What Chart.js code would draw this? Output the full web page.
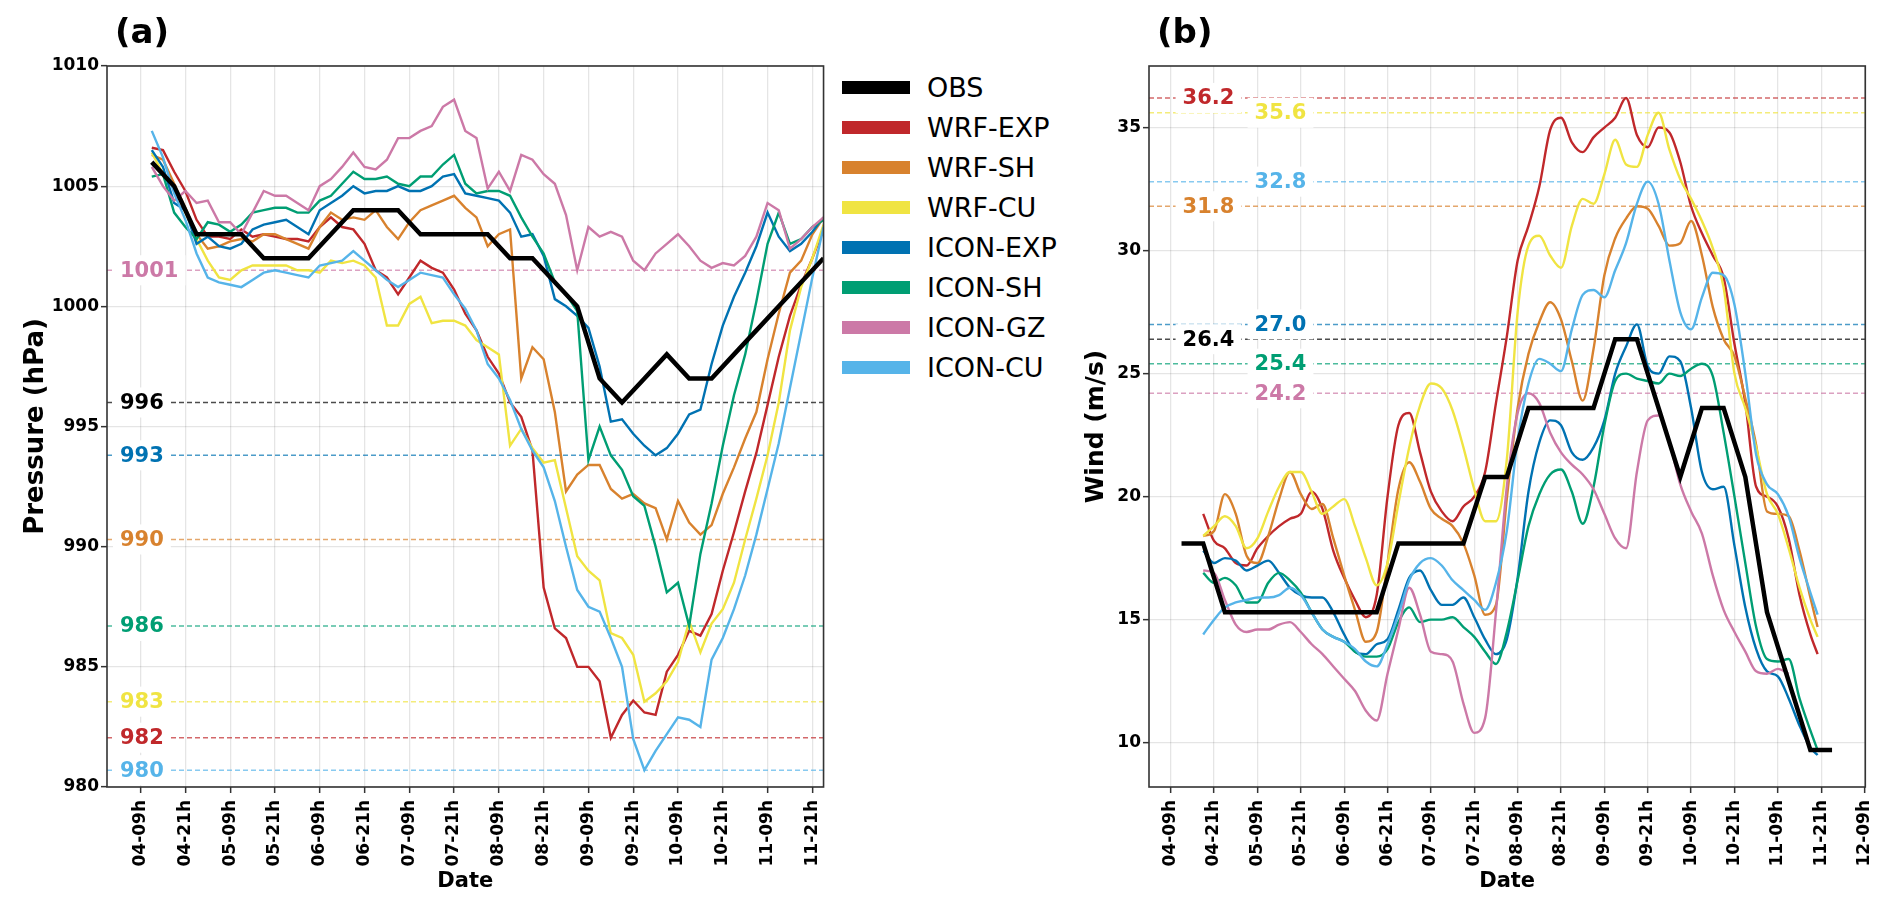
<!DOCTYPE html>
<html>
<head>
<meta charset="utf-8">
<script src="https://cdn.jsdelivr.net/npm/chart.js@4.4.1/dist/chart.umd.min.js"></script>
<style>
  body { margin: 0; background: #fff; width: 1892px; height: 908px; overflow: hidden; position: relative; font-family: "DejaVu Sans", sans-serif; }
  #pressureChart { position: absolute; left: 0; top: 0; }
  #windChart { position: absolute; left: 1060px; top: 0; }
  #legend { position: absolute; left: 842px; top: 67px; }
  .item { display: flex; align-items: center; height: 40px; }
  .swatch { width: 68px; height: 13px; margin-right: 17px; }
  .item span { font-size: 27px; color: #000; line-height: 1; }
</style>
</head>
<body>
<canvas id="pressureChart" width="840" height="908"></canvas>
<canvas id="windChart" width="832" height="908"></canvas>
<div id="legend"></div>

<script>
// ====== NAMES & COLOURS ======
const seriesNames = ["OBS", "WRF-EXP", "WRF-SH", "WRF-CU", "ICON-EXP", "ICON-SH", "ICON-GZ", "ICON-CU"];
const seriesColors = ["#000000", "#C0282B", "#D8822E", "#F0E442", "#0072B2", "#009E73", "#CC79A7", "#56B4E9"];

// ====== X AXIS (hours after 04-00h) ======
const dateTicks = ["04-09h", "04-21h", "05-09h", "05-21h", "06-09h", "06-21h", "07-09h", "07-21h",
                   "08-09h", "08-21h", "09-09h", "09-21h", "10-09h", "10-21h", "11-09h", "11-21h", "12-09h"];
const dateTickHours = [9, 21, 33, 45, 57, 69, 81, 93, 105, 117, 129, 141, 153, 165, 177, 189, 201];

const obsHours = [];            // 6-hourly observations
for (let h = 12; h <= 192; h += 6) obsHours.push(h);
const pressureHours = [];       // 3-hourly model output
for (let h = 12; h <= 192; h += 3) pressureHours.push(h);
const windHours = [];
for (let h = 18; h <= 186; h += 3) windHours.push(h);
windHours.push(188);

const pressureTicks = [980, 985, 990, 995, 1000, 1005, 1010];
const windTicks = [10, 15, 20, 25, 30, 35];

// ====== (a) PRESSURE ======
const obsP = [1006, 1005, 1003, 1003, 1003, 1002, 1002, 1002, 1003, 1004, 1004, 1004, 1003, 1003, 1003, 1003,
              1002, 1002, 1001, 1000, 997, 996, 997, 998, 997, 997, 998, 999, 1000, 1001, 1002];
const wrfExpP = [1006.6, 1006.5, 1005.6, 1004.8, 1003.6, 1002.9, 1002.9, 1002.8, 1003.2, 1002.9,
                 1003.0, 1002.9, 1002.8, 1002.8, 1002.7, 1003.3, 1003.7, 1003.3, 1003.2, 1002.6,
                 1001.5, 1001.2, 1000.5, 1001.2, 1001.9, 1001.6, 1001.4, 1000.7, 999.7, 999.0,
                 997.9, 997.2, 996.0, 995.4, 994.0, 988.3, 986.6, 986.2, 985.0, 985.0,
                 984.4, 982.05, 983.0, 983.6, 983.1, 983.0, 984.8, 985.5, 986.5, 986.3,
                 987.2, 989.0, 990.6, 992.3, 993.9, 995.9, 997.9, 999.6, 1000.9, 1002.0,
                 1003.2];
const wrfShP = [1006.3, 1006.1, 1005.1, 1004.1, 1003.0, 1002.4, 1002.5, 1002.7, 1002.8, 1002.7,
                1003.0, 1003.0, 1002.8, 1002.6, 1002.4, 1003.3, 1003.9, 1003.6, 1003.7, 1003.6,
                1004.0, 1003.3, 1002.8, 1003.5, 1004.0, 1004.2, 1004.4, 1004.6, 1004.1, 1003.7,
                1002.5, 1003.0, 1003.2, 997.0, 998.3, 997.8, 995.6, 992.3, 993.0, 993.4,
                993.4, 992.4, 992.0, 992.2, 991.8, 991.6, 990.3, 991.9, 991.0, 990.5,
                990.9, 992.2, 993.3, 994.5, 995.6, 997.8, 999.7, 1001.4, 1001.9, 1003.0,
                1003.7];
const wrfCuP = [1006.4, 1005.5, 1005.0, 1003.9, 1002.8, 1001.9, 1001.2, 1001.1, 1001.5, 1001.7,
                1001.7, 1001.7, 1001.7, 1001.5, 1001.5, 1001.4, 1001.9, 1001.8, 1001.9, 1001.7,
                1001.2, 999.2, 999.2, 1000.1, 1000.4, 999.3, 999.4, 999.4, 999.2, 998.6,
                998.3, 998.0, 994.2, 994.9, 994.1, 993.5, 993.6, 991.6, 989.6, 989.0,
                988.6, 986.4, 986.2, 985.5, 983.55, 983.9, 984.4, 985.2, 986.9, 985.6,
                986.8, 987.4, 988.5, 990.3, 992.0, 993.8, 996.0, 999.0, 1000.8, 1002.0,
                1003.4];
const iconExpP = [1006.5, 1005.8, 1004.3, 1004.0, 1002.6, 1002.9, 1002.5, 1002.4, 1002.6, 1003.2,
                  1003.4, 1003.5, 1003.6, 1003.3, 1003.0, 1004.0, 1004.3, 1004.6, 1005.0, 1004.7,
                  1004.8, 1004.8, 1005.0, 1004.8, 1004.8, 1005.0, 1005.4, 1005.5, 1004.7, 1004.6,
                  1004.5, 1004.4, 1003.9, 1002.9, 1003.0, 1002.1, 1000.3, 1000.0, 999.6, 999.1,
                  997.5, 995.2, 995.3, 994.7, 994.2, 993.8, 994.1, 994.7, 995.5, 995.7,
                  997.6, 999.2, 1000.4, 1001.4, 1002.5, 1003.9, 1002.9, 1002.3, 1002.6, 1003.1,
                  1003.7];
const iconShP = [1005.4, 1005.5, 1003.9, 1003.3, 1002.8, 1003.5, 1003.4, 1003.1, 1003.4, 1003.9,
                 1004.0, 1004.1, 1004.1, 1003.9, 1003.9, 1004.4, 1004.6, 1005.1, 1005.6, 1005.3,
                 1005.3, 1005.4, 1005.1, 1005.0, 1005.4, 1005.4, 1005.9, 1006.3, 1005.1, 1004.7,
                 1004.8, 1004.8, 1004.6, 1003.7, 1002.9, 1002.2, 1001.0, 1000.5, 999.8, 993.6,
                 995.0, 993.8, 993.2, 992.1, 991.7, 990.0, 988.1, 988.5, 986.7, 989.7,
                 991.8, 994.2, 996.3, 998.0, 1000.2, 1002.6, 1003.9, 1002.6, 1002.8, 1003.3,
                 1003.6];
const iconGzP = [1005.8, 1005.0, 1004.4, 1004.8, 1004.3, 1004.4, 1003.5, 1003.5, 1003.0, 1003.9,
                 1004.8, 1004.6, 1004.6, 1004.3, 1004.0, 1005.0, 1005.3, 1005.8, 1006.4, 1005.8,
                 1005.7, 1006.1, 1007.0, 1007.0, 1007.3, 1007.5, 1008.3, 1008.6, 1007.3, 1007.0,
                 1004.9, 1005.6, 1004.8, 1006.3, 1006.1, 1005.5, 1005.1, 1003.8, 1001.5, 1003.3,
                 1002.9, 1003.1, 1002.9, 1001.9, 1001.5, 1002.2, 1002.6, 1003.0, 1002.5, 1001.9,
                 1001.6, 1001.8, 1001.7, 1002.1, 1002.9, 1004.3, 1004.0, 1002.4, 1002.8, 1003.3,
                 1003.7];
const iconCuP = [1007.3, 1006.2, 1004.7, 1003.6, 1002.2, 1001.2, 1001.0, 1000.9, 1000.8, 1001.1,
                 1001.4, 1001.5, 1001.4, 1001.3, 1001.2, 1001.7, 1001.8, 1001.9, 1002.3, 1001.9,
                 1001.5, 1001.1, 1000.8, 1001.1, 1001.4, 1001.3, 1001.2, 1000.5, 999.9, 999.0,
                 997.6, 997.0, 996.1, 994.9, 994.0, 993.3, 991.9, 990.0, 988.2, 987.5,
                 987.3, 986.2, 985.0, 982.0, 980.7, 981.5, 982.2, 982.9, 982.8, 982.5,
                 985.3, 986.2, 987.4, 988.8, 990.5, 992.4, 994.3, 996.6, 998.9, 1001.2,
                 1003.3];

// ====== (b) WIND ======
const obsW = [18.1, 18.1, 15.3, 15.3, 15.3, 15.3, 15.3, 15.3, 15.3, 15.3, 18.1, 18.1, 18.1, 18.1, 20.8, 20.8,
              23.6, 23.6, 23.6, 23.6, 26.4, 26.4, 23.6, 20.8, 23.6, 23.6, 20.8, 15.3, 12.5, 9.7, 9.7];
const wrfExpW = [19.3, 18.2, 17.9, 17.3, 17.2, 17.9, 18.4, 18.8, 19.1, 19.3,
                 20.2, 19.5, 17.8, 16.7, 15.8, 15.1, 16.0, 20.0, 22.9, 23.4,
                 21.8, 20.2, 19.4, 19.0, 19.6, 20.0, 21.0, 23.8, 26.5, 29.6,
                 31.0, 32.6, 34.9, 35.4, 34.4, 34.0, 34.6, 35.0, 35.4, 36.2,
                 34.7, 34.2, 35.0, 34.8, 33.6, 31.8, 30.7, 29.8, 28.9, 26.2,
                 23.8, 20.4, 20.0, 19.6, 18.3, 16.0, 14.4,
                 13.6];
const wrfShW = [18.4, 18.6, 20.1, 19.3, 17.6, 17.3, 18.4, 19.9, 21.0, 20.1,
                19.5, 19.7, 18.3, 16.8, 15.4, 14.1, 14.5, 17.3, 20.3, 21.4,
                20.6, 19.5, 19.1, 18.8, 18.1, 16.8, 15.2, 15.6, 19.9, 23.6,
                25.8, 27.1, 27.9, 27.2, 25.5, 23.9, 26.0, 29.0, 30.5, 31.3,
                31.8, 31.7, 31.0, 30.2, 30.3, 31.2, 29.8, 27.7, 26.4, 25.7,
                24.0, 22.1, 19.4, 19.3, 19.2, 17.8, 15.9,
                14.7];
const wrfCuW = [18.4, 18.8, 19.2, 18.8, 17.9, 18.3, 19.4, 20.4, 21.0, 21.0,
                20.2, 19.3, 19.6, 19.9, 18.8, 17.5, 16.4, 17.3, 19.7, 22.0,
                23.7, 24.6, 24.4, 23.5, 22.0, 20.3, 19.0, 19.0, 21.5, 27.5,
                30.2, 30.6, 29.8, 29.3, 31.0, 32.1, 31.9, 33.1, 34.5, 33.5,
                33.4, 34.7, 35.6, 34.1, 32.9, 32.1, 31.2, 30.1, 28.5, 25.0,
                23.6, 22.0, 20.1, 19.3, 17.9, 16.3, 15.0,
                14.3];
const iconExpW = [17.8, 17.3, 17.5, 17.4, 17.0, 17.2, 17.4, 16.9, 16.3, 16.0,
                  15.9, 15.9, 15.3, 14.4, 13.7, 13.6, 14.0, 14.2, 15.4, 16.7,
                  17.0, 16.2, 15.6, 15.6, 15.9, 15.1, 14.2, 13.6, 14.2, 16.7,
                  20.2, 22.2, 23.1, 22.9, 21.8, 21.5, 22.0, 23.1, 25.0, 26.1,
                  27.0, 25.3, 25.0, 25.7, 25.5, 23.6, 21.0, 20.3, 20.4, 18.0,
                  15.5, 13.8, 12.9, 12.7, 11.8, 10.7, 9.8,
                  9.5];
const iconShW = [16.9, 16.5, 16.7, 16.4, 15.7, 15.7, 16.5, 16.9, 16.6, 16.1,
                 15.3, 14.6, 14.3, 14.1, 13.7, 13.5, 13.5, 13.8, 14.9, 15.5,
                 14.9, 15.0, 15.0, 15.1, 14.7, 14.3, 13.7, 13.2, 14.5, 16.6,
                 18.8, 20.1, 20.9, 21.1, 20.2, 18.9, 20.4, 22.9, 24.7, 25.0,
                 24.8, 24.7, 24.6, 25.0, 24.9, 25.2, 25.4, 24.9, 22.6, 20.0,
                 17.3, 14.7, 13.4, 13.3, 13.4, 11.8, 10.5,
                 9.7];
const iconGzW = [17.0, 16.9, 15.8, 14.8, 14.5, 14.6, 14.6, 14.8, 14.9, 14.5,
                 14.0, 13.6, 13.1, 12.6, 12.1, 11.3, 10.9, 12.8, 14.6, 16.3,
                 15.2, 13.7, 13.6, 13.3, 11.6, 10.4, 11.0, 15.3, 20.4, 23.4,
                 24.2, 23.8, 22.6, 21.8, 21.3, 20.9, 20.3, 19.3, 18.3, 17.9,
                 21.0, 23.1, 23.3, 22.2, 20.5, 19.4, 18.5, 16.8, 15.4, 14.5,
                 13.7, 12.9, 12.8, 13.0, 12.8, null, null,
                 null];
const iconCuW = [14.4, 15.0, 15.5, 15.7, 15.8, 15.9, 15.9, 16.0, 16.3, 16.0,
                 15.3, 14.6, 14.3, 14.1, 13.8, 13.3, 13.1, 14.0, 15.2, 16.6,
                 17.3, 17.5, 17.2, 16.6, 16.2, 15.8, 15.4, 16.5, 18.6, 22.3,
                 24.6, 25.6, 25.4, 25.1, 26.8, 28.2, 28.4, 28.1, 29.2, 30.3,
                 31.9, 32.8, 31.9, 29.6, 27.5, 26.8, 28.1, 29.1, 29.0, 27.8,
                 25.0, 21.7, 20.5, 20.1, 19.2, 17.5, 16.1,
                 15.2];

const pressureSeries = [obsP, wrfExpP, wrfShP, wrfCuP, iconExpP, iconShP, iconGzP, iconCuP];
const windSeries = [obsW, wrfExpW, wrfShW, wrfCuW, iconExpW, iconShW, iconGzW, iconCuW];

Chart.defaults.font.family = '"DejaVu Sans", sans-serif';
Chart.defaults.color = "#000";

// ====== HELPERS ======
function points(hours, values) {
  return hours.map((h, i) => ({ x: h, y: values[i] }));
}

function buildDatasets(series, modelHours, smooth) {
  return series.map((vals, i) => ({
    label: seriesNames[i],
    data: points(i === 0 ? obsHours : modelHours, vals),
    borderColor: seriesColors[i],
    borderWidth: i === 0 ? 4.5 : 2.4,
    pointRadius: 0,
    tension: 0,
    cubicInterpolationMode: smooth && i > 0 ? "monotone" : "default",
    order: i === 0 ? 0 : 8 - i,
    fill: false
  }));
}

// dashed min/max lines, their labels, the frame and the panel letter
const panelDecor = {
  id: "panelDecor",
  beforeDatasetsDraw(chart, args, o) {
    const { ctx, chartArea: a } = chart;
    const y = chart.scales.y;
    ctx.save();
    ctx.lineWidth = 1.5;
    ctx.setLineDash([5, 3]);
    ctx.globalAlpha = 0.7;
    o.refs.forEach(r => {
      const py = y.getPixelForValue(r.value);
      ctx.strokeStyle = r.color;
      ctx.beginPath();
      ctx.moveTo(a.left, py);
      ctx.lineTo(a.right, py);
      ctx.stroke();
    });
    ctx.restore();
  },
  afterDatasetsDraw(chart, args, o) {
    const { ctx, chartArea: a } = chart;
    const y = chart.scales.y;
    ctx.save();
    ctx.font = 'bold 21px "DejaVu Sans"';
    ctx.textBaseline = "middle";
    o.refs.forEach(r => {
      const py = y.getPixelForValue(r.value);
      const w = ctx.measureText(r.text).width;
      const x0 = o.centered ? a.left + o.labelX[r.col] - w / 2 : a.left + o.labelX[r.col];
      ctx.fillStyle = "#fff";
      ctx.fillRect(x0 - 7, py - 15, w + 14, 30);
      ctx.fillStyle = r.color;
      ctx.fillText(r.text, x0, py + 1);
    });
    ctx.restore();
  },
  afterDraw(chart, args, o) {
    const { ctx, chartArea: a } = chart;
    ctx.save();
    ctx.strokeStyle = "#333";
    ctx.lineWidth = 1.6;
    ctx.strokeRect(a.left, a.top, a.right - a.left, a.bottom - a.top);
    ctx.fillStyle = "#000";
    ctx.font = 'bold 34px "DejaVu Sans"';
    ctx.textBaseline = "middle";
    ctx.fillText(o.letter, a.left + 8, a.top - 32);
    ctx.restore();
  }
};

function makeChart(id, cfg) {
  const grid = { color: "rgba(0,0,0,0.1)", lineWidth: 1.3, tickLength: 6, tickColor: "#333", tickWidth: 1.5 };
  return new Chart(document.getElementById(id), {
    type: "line",
    data: { datasets: cfg.datasets },
    options: {
      responsive: false,
      animation: false,
      devicePixelRatio: 1,
      layout: { padding: { top: 66, right: cfg.padRight, bottom: 0, left: 0 } },
      plugins: {
        legend: { display: false },
        tooltip: { enabled: false },
        panelDecor: cfg.decor
      },
      scales: {
        x: {
          type: "linear",
          min: cfg.xMin,
          max: cfg.xMax,
          afterBuildTicks: s => { s.ticks = dateTickHours.filter(v => v <= cfg.xMax).map(v => ({ value: v })); },
          afterFit: s => { s.height = 121; },
          ticks: {
            autoSkip: false, maxRotation: 90, minRotation: 90, padding: 7,
            font: { size: 17, weight: "bold" },
            callback: v => dateTicks[dateTickHours.indexOf(v)]
          },
          grid: grid,
          border: { display: false },
          title: { display: true, text: "Date", font: { size: 21, weight: "bold" }, padding: { top: 0, bottom: 14 } }
        },
        y: {
          min: cfg.yMin,
          max: cfg.yMax,
          afterBuildTicks: s => { s.ticks = cfg.yTicks.map(v => ({ value: v })); },
          afterFit: s => { s.width = cfg.yWidth; },
          ticks: { padding: 2, font: { size: 17, weight: "bold" }, callback: v => String(v) },
          grid: grid,
          border: { display: false },
          title: { display: true, text: cfg.yTitle, font: { size: cfg.yTitleSize, weight: "bold" },
                   padding: { top: 36 - cfg.yTitleSize * 0.6, bottom: 0 } }
        }
      }
    },
    plugins: [panelDecor]
  });
}

// ====== (a) PRESSURE CHART ======
const pressureRefs = pressureSeries.map((vals, i) => {
  const m = Math.min(...vals);
  return { value: m, text: String(Math.floor(m)), color: seriesColors[i], col: 0 };
});
makeChart("pressureChart", {
  datasets: buildDatasets(pressureSeries, pressureHours, false),
  xMin: 0, xMax: 192,
  yMin: 980, yMax: 1010, yTicks: pressureTicks,
  yTitle: "Pressure (hPa)", yTitleSize: 26, yWidth: 107, padRight: 16,
  decor: { refs: pressureRefs, labelX: [13], centered: false, letter: "(a)" }
});

// ====== (b) WIND CHART ======
const windLabelCol = [0, 0, 0, 1, 1, 1, 1, 1];
const windRefs = windSeries.map((vals, i) => {
  const m = Math.max(...vals.filter(v => v !== null));
  return { value: m, text: m.toFixed(1), color: seriesColors[i], col: windLabelCol[i] };
});
makeChart("windChart", {
  datasets: buildDatasets(windSeries, windHours, true),
  xMin: 3, xMax: 201.2,
  yMin: 8.2, yMax: 37.5, yTicks: windTicks,
  yTitle: "Wind (m/s)", yTitleSize: 25, yWidth: 89, padRight: 25,
  decor: { refs: windRefs, labelX: [59.5, 131.5], centered: true, letter: "(b)" }
});

// ====== LEGEND ======
const legend = document.getElementById("legend");
seriesNames.forEach((name, i) => {
  const item = document.createElement("div");
  item.className = "item";
  item.innerHTML = `<div class="swatch" style="background:${seriesColors[i]}"></div><span>${name}</span>`;
  legend.appendChild(item);
});
</script>
</body>
</html>
